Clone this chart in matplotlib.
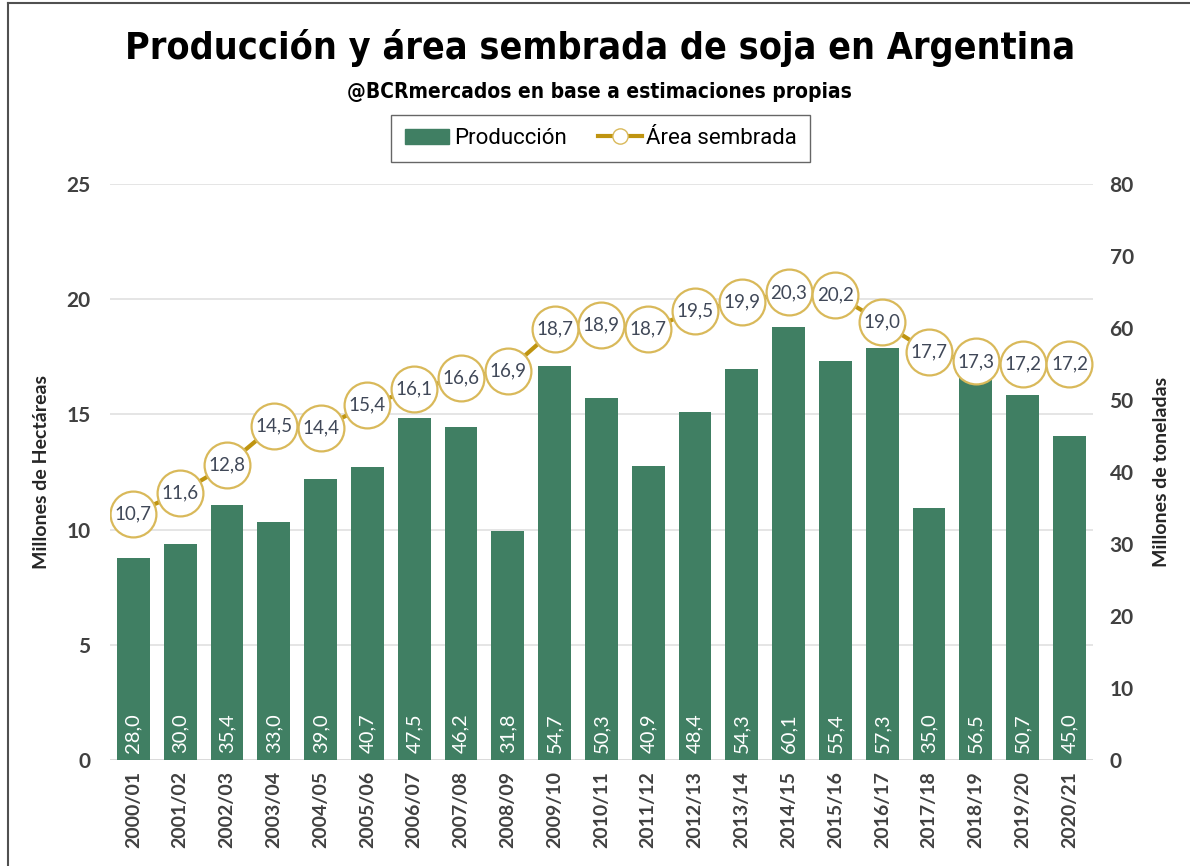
import numpy as np
import matplotlib.pyplot as plt
from matplotlib.lines import Line2D
from matplotlib.patches import Patch

# datos
campanias = ['2000/01', '2001/02', '2002/03', '2003/04', '2004/05', '2005/06', '2006/07',
             '2007/08', '2008/09', '2009/10', '2010/11', '2011/12', '2012/13', '2013/14',
             '2014/15', '2015/16', '2016/17', '2017/18', '2018/19', '2019/20', '2020/21']
produccion = [28.0, 30.0, 35.4, 33.0, 39.0, 40.7, 47.5, 46.2, 31.8, 54.7, 50.3,
              40.9, 48.4, 54.3, 60.1, 55.4, 57.3, 35.0, 56.5, 50.7, 45.0]
area = [10.7, 11.6, 12.8, 14.5, 14.4, 15.4, 16.1, 16.6, 16.9, 18.7, 18.9,
        18.7, 19.5, 19.9, 20.3, 20.2, 19.0, 17.7, 17.3, 17.2, 17.2]

verde = '#407F63'
oro_linea = '#BF9410'
oro_borde = '#D9B95A'
gris_txt = '#262626'

plt.rcParams['font.family'] = ['Lato', 'DejaVu Sans']

fig = plt.figure(figsize=(11.9, 8.66), dpi=100)
ax = fig.add_axes([0.0924, 0.1224, 0.826, 0.665])   # eje izquierdo: hectareas (grilla)
ax2 = ax.twinx()                                    # eje derecho: toneladas (barras)
ax3 = ax.twinx()                                    # linea de area sembrada

x = np.arange(len(campanias))

ax2.bar(x, produccion, width=0.70, color=verde, zorder=2)
for xi, v in zip(x, produccion):
    ax2.text(xi, 1.0, f'{v:.1f}'.replace('.', ','), rotation=90, ha='center', va='bottom',
             color='white', fontsize=14.5, zorder=3)

ax3.plot(x, area, color=oro_linea, lw=3, zorder=3)
ax3.plot(x, area, 'o', ms=33, mfc='white', mec=oro_borde, mew=1.6, zorder=4)
for xi, v in zip(x, area):
    ax3.text(xi, v, f'{v:.1f}'.replace('.', ','), ha='center', va='center',
             color='#404858', fontsize=13.5, zorder=5)

ax.set_xlim(-0.5, len(campanias) - 0.5)
ax.set_ylim(0, 25)
ax3.set_ylim(0, 25)
ax2.set_ylim(0, 80)
ax.set_yticks([0, 5, 10, 15, 20, 25])
ax2.set_yticks(range(0, 81, 10))
ax3.set_yticks([])
ax.set_xticks(x)
ax.set_xticklabels(campanias, rotation=90, fontsize=14, fontweight='bold', color=gris_txt)

ax.yaxis.grid(True, color='#E3E3E3', lw=1.3)
ax.set_axisbelow(True)
for a in (ax, ax2, ax3):
    for s in a.spines.values():
        s.set_visible(False)
    a.tick_params(length=0, labelsize=15, labelcolor='#404040')
for a in (ax, ax2):
    for t in a.get_yticklabels():
        t.set_fontweight('bold')
ax.tick_params(axis='y', pad=14)
ax2.tick_params(axis='y', pad=12)
ax.tick_params(axis='x', pad=8, labelsize=14)
ax2.axhline(0, color='#D9D9D9', lw=1.3, zorder=1)

ax.set_ylabel('Millones de Hectáreas', fontsize=14, fontweight='bold', color=gris_txt, labelpad=12)
ax2.set_ylabel('Millones de toneladas', fontsize=14, fontweight='bold', color=gris_txt, labelpad=14)

# titulos
fig.text(0.504, 0.945, 'Producción y área sembrada de soja en Argentina', ha='center', va='center',
         fontsize=27, fontweight='bold', fontstretch='condensed', color='black',
         family=['DejaVu Sans'])
fig.text(0.504, 0.894, '@BCRmercados en base a estimaciones propias', ha='center', va='center',
         fontsize=15, fontweight='bold', fontstretch='condensed', color='black',
         family=['DejaVu Sans'])

# leyenda
handles = [Patch(color=verde, label='Producción'),
           Line2D([0], [0], color=oro_linea, lw=3, marker='o', ms=11, mfc='white',
                  mec=oro_borde, label='Área sembrada')]
leg = fig.legend(handles=handles, loc='center', bbox_to_anchor=(0.505, 0.840), ncol=2,
                 frameon=True, fancybox=False, edgecolor='#404040',
                 handlelength=2.0, handletextpad=0.2, columnspacing=1.4,
                 borderpad=0.6, prop={'family': ['Roboto'], 'size': 16})
leg.get_frame().set_linewidth(1.0)

# marco de la captura
fig.add_artist(Line2D([0.0065, 0.0065], [0, 0.997], transform=fig.transFigure, color='#505050', lw=1.5))
fig.add_artist(Line2D([0.0065, 1], [0.996, 0.996], transform=fig.transFigure, color='#505050', lw=1.5))

fig.savefig('out.png', dpi=100)
